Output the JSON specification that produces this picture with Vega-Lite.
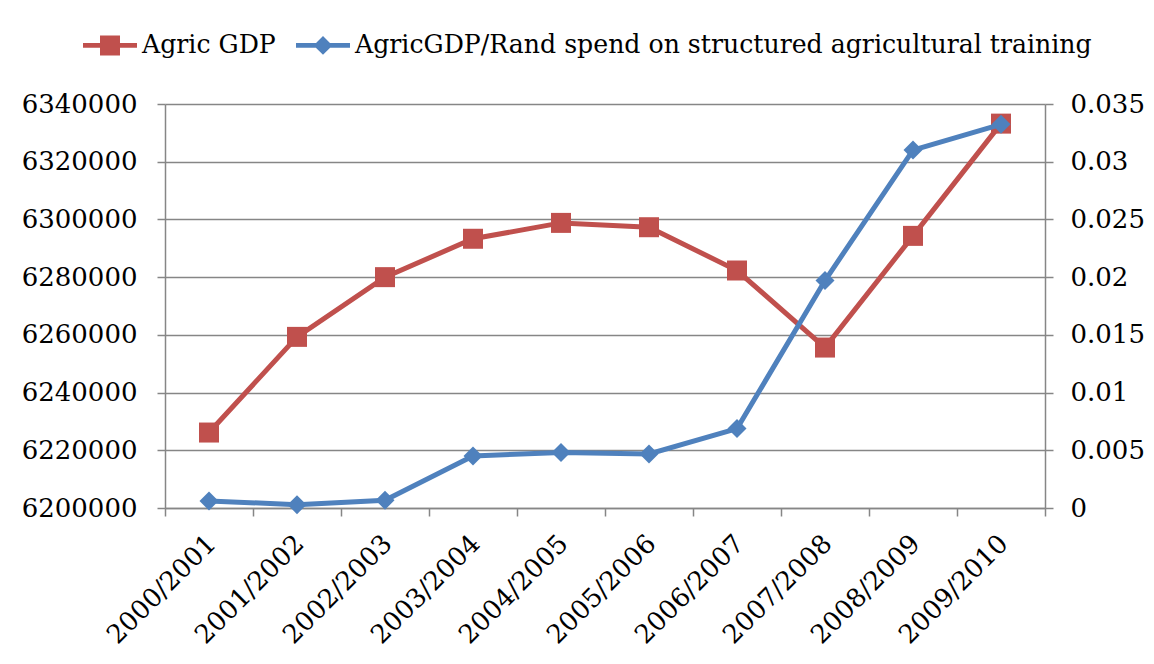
{
  "$schema": "https://vega.github.io/schema/vega-lite/v6.json",
  "width": 880,
  "height": 404,
  "autosize": {"type": "none"},
  "padding": {"left": 165, "top": 104, "right": 109, "bottom": 156},
  "background": "white",
  "config": {
    "font": "DejaVu Serif",
    "view": {"stroke": null},
    "axis": {
      "domainColor": "#868686",
      "domainWidth": 1.5,
      "tickColor": "#868686",
      "tickWidth": 1.5,
      "tickSize": 8,
      "gridColor": "#868686",
      "gridWidth": 1.5,
      "labelFont": "DejaVu Serif",
      "labelFontSize": 26,
      "labelColor": "#000000",
      "title": null
    }
  },
  "data": {
    "values": [
      {"year": "2000/2001", "gdp": 6226150, "ratio": 0.00061},
      {"year": "2001/2002", "gdp": 6259300, "ratio": 0.00029},
      {"year": "2002/2003", "gdp": 6280000, "ratio": 0.00067},
      {"year": "2003/2004", "gdp": 6293300, "ratio": 0.00451},
      {"year": "2004/2005", "gdp": 6298800, "ratio": 0.0048},
      {"year": "2005/2006", "gdp": 6297300, "ratio": 0.00468},
      {"year": "2006/2007", "gdp": 6282300, "ratio": 0.00688},
      {"year": "2007/2008", "gdp": 6255600, "ratio": 0.01971},
      {"year": "2008/2009", "gdp": 6294300, "ratio": 0.03101},
      {"year": "2009/2010", "gdp": 6333200, "ratio": 0.03324}
    ]
  },
  "encoding": {
    "x": {
      "field": "year",
      "type": "nominal",
      "sort": null,
      "scale": {"paddingInner": 0, "paddingOuter": 0},
      "axis": {
        "labelAngle": -45,
        "tickBand": "extent",
        "labelPadding": 14,
        "labelOffset": -7,
        "grid": false
      }
    }
  },
  "layer": [
    {
      "mark": {
        "type": "line",
        "strokeWidth": 5,
        "point": {"shape": "square", "size": 400, "filled": true, "opacity": 1}
      },
      "encoding": {
        "y": {
          "field": "gdp",
          "type": "quantitative",
          "scale": {"domain": [6200000, 6340000], "zero": false, "nice": false},
          "axis": {
            "orient": "left",
            "values": [6200000, 6220000, 6240000, 6260000, 6280000, 6300000, 6320000, 6340000],
            "format": "d",
            "grid": true,
            "labelPadding": 20
          }
        },
        "color": {
          "datum": "Agric GDP",
          "type": "nominal",
          "scale": {
            "domain": ["Agric GDP", "AgricGDP/Rand spend on structured agricultural training"],
            "range": ["#C0504D", "#4F81BD"]
          },
          "legend": {
            "title": null,
            "orient": "none",
            "direction": "horizontal",
            "legendX": -82,
            "legendY": -86,
            "symbolSize": 2916,
            "symbolStrokeWidth": 0,
            "labelFont": "DejaVu Serif",
            "labelFontSize": 25.2,
            "labelColor": "#000000",
            "labelOffset": 5,
            "labelLimit": 0,
            "columnPadding": 20,
            "encode": {
              "symbols": {
                "update": {
                  "shape": {"signal": "datum.value === 'Agric GDP' ? 'M-1,-0.09H1V0.09H-1Z M-0.37,-0.37H0.37V0.37H-0.37Z' : 'M-1,-0.09H1V0.09H-1Z M-0.35,0L0,-0.35L0.35,0L0,0.35Z'"},
                  "fill": {"signal": "scale('color', datum.value)"},
                  "fillOpacity": {"value": 1},
                  "strokeWidth": {"value": 0}
                }
              }
            }
          }
        }
      }
    },
    {
      "mark": {
        "type": "line",
        "strokeWidth": 5,
        "point": {"shape": "diamond", "size": 361, "filled": true, "opacity": 1}
      },
      "encoding": {
        "y": {
          "field": "ratio",
          "type": "quantitative",
          "scale": {"domain": [0, 0.035], "nice": false},
          "axis": {
            "orient": "right",
            "values": [0, 0.005, 0.01, 0.015, 0.02, 0.025, 0.03, 0.035],
            "format": "~g",
            "grid": false,
            "labelPadding": 17
          }
        },
        "color": {
          "datum": "AgricGDP/Rand spend on structured agricultural training",
          "type": "nominal"
        }
      }
    }
  ],
  "resolve": {"scale": {"y": "independent"}}
}
